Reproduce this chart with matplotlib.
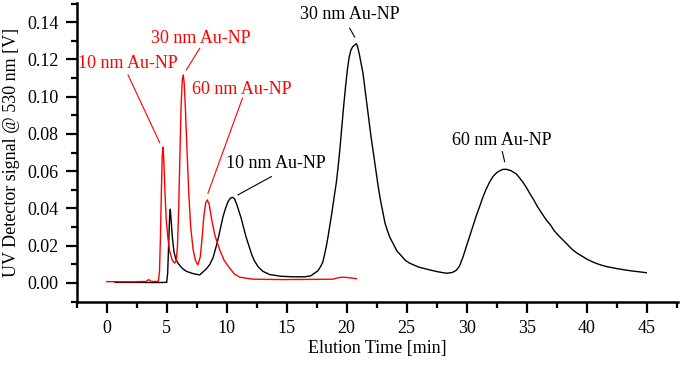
import numpy as np
import matplotlib
matplotlib.use("Agg")
from matplotlib import pyplot as plt
from matplotlib.ticker import MultipleLocator, FormatStrFormatter

plt.rcParams["font.family"] = ["Liberation Serif", "DejaVu Serif"]
plt.rcParams["font.size"] = 13

# black trace (elution time [min], signal [V])
black_t = [0.7, 2, 4, 5.0, 5.08, 5.16, 5.24, 5.3, 5.38, 5.48, 5.6, 5.75, 5.95, 6.3, 6.65,
           7.2, 7.75, 8.3, 8.6, 8.86, 9.1, 9.3, 9.5, 9.69, 9.9, 10.1, 10.3, 10.47, 10.65,
           10.85, 11.05, 11.22, 11.4, 11.6, 11.8, 11.92, 12.1, 12.3, 12.61, 13.0, 13.58,
           14.5, 15.5, 16.5, 17.0, 17.6, 17.8, 18.0, 18.15, 18.3, 18.45, 18.6, 18.75,
           18.86, 19.0, 19.14, 19.3, 19.45, 19.6, 19.75, 19.9, 20.05, 20.2, 20.35, 20.5,
           20.67, 20.8, 20.9, 21.05, 21.2, 21.36, 21.55, 21.8, 22.0, 22.19, 22.4, 22.6,
           22.8, 23.03, 23.2, 23.4, 23.6, 23.86, 24.2, 24.5, 24.9, 25.25, 26.0, 26.92,
           27.6, 28.31, 28.8, 29.14, 29.4, 29.7, 29.97, 30.25, 30.5, 30.8, 31.08, 31.35,
           31.6, 31.9, 32.19, 32.5, 32.8, 33.05, 33.31, 33.7, 34.14, 34.4, 34.7, 35.0,
           35.25, 35.6, 35.9, 36.25, 36.64, 37.0, 37.3, 37.65, 38.03, 38.4, 38.8, 39.2,
           39.69, 40.1, 40.6, 41.1, 41.64, 42.6, 43.58, 44.97]
black_v = [0.0003, 0.0003, 0.0002, 0.0003, 0.005, 0.02, 0.035, 0.0396, 0.033, 0.024,
           0.017, 0.013, 0.0105, 0.0078, 0.0062, 0.005, 0.0043, 0.0075, 0.01, 0.0135,
           0.019, 0.024, 0.03, 0.0355, 0.04, 0.0435, 0.0455, 0.046, 0.0452, 0.042, 0.038,
           0.0345, 0.03, 0.025, 0.021, 0.0185, 0.015, 0.012, 0.0088, 0.0063, 0.0045,
           0.0036, 0.0033, 0.0033, 0.0038, 0.0065, 0.0085, 0.011, 0.015, 0.0195, 0.025,
           0.031, 0.037, 0.042, 0.048, 0.054, 0.063, 0.073, 0.084, 0.095, 0.105, 0.114,
           0.121, 0.125, 0.1268, 0.1278, 0.1285, 0.1272, 0.123, 0.118, 0.1126, 0.103,
           0.09, 0.08, 0.0714, 0.062, 0.053, 0.045, 0.0374, 0.032, 0.028, 0.0245, 0.0213,
           0.017, 0.015, 0.012, 0.0106, 0.0085, 0.007, 0.006, 0.0052, 0.0056, 0.0068,
           0.009, 0.014, 0.0195, 0.025, 0.03, 0.036, 0.041, 0.046, 0.05, 0.054, 0.0571,
           0.0592, 0.0604, 0.061, 0.061, 0.0603, 0.0585, 0.0565, 0.054, 0.051, 0.0482,
           0.0445, 0.041, 0.0375, 0.0338, 0.031, 0.028, 0.0255, 0.023, 0.0205, 0.018,
           0.016, 0.0141, 0.0125, 0.011, 0.0098, 0.0088, 0.0076, 0.0066, 0.0055]

# red trace
red_t = [0, 2, 3.3, 3.5, 3.7, 4.3, 4.4, 4.48, 4.56, 4.63, 4.69, 4.76, 4.85, 4.95, 5.1,
         5.25, 5.45, 5.65, 5.8, 5.9, 6.0, 6.1, 6.2, 6.3, 6.38, 6.46, 6.55, 6.7, 6.85,
         7.0, 7.2, 7.4, 7.6, 7.8, 7.95, 8.1, 8.25, 8.39, 8.55, 8.75, 9.0, 9.42, 9.8,
         10.25, 10.65, 11.08, 12.19, 14.69, 17.0, 18.86, 19.3, 19.7, 20.2, 20.8]
red_v = [0.0007, 0.0006, 0.0008, 0.0018, 0.0008, 0.0008, 0.006, 0.025, 0.05, 0.068,
         0.073, 0.066, 0.05, 0.035, 0.024, 0.017, 0.0125, 0.0106, 0.012, 0.02, 0.04,
         0.068, 0.095, 0.109, 0.1117, 0.107, 0.095, 0.07, 0.047, 0.03, 0.018, 0.012,
         0.0097, 0.014, 0.024, 0.036, 0.043, 0.0446, 0.042, 0.034, 0.026, 0.0177, 0.012,
         0.0079, 0.0048, 0.0031, 0.002, 0.0018, 0.0019, 0.002, 0.0028, 0.0031, 0.0028,
         0.0023]

# labels: text, text pos, leader start, leader tip, colour
lbl_text = ["30 nm Au-NP", "60 nm Au-NP", "10 nm Au-NP",
            "10 nm Au-NP", "30 nm Au-NP", "60 nm Au-NP"]
lbl_xy = [(20.25, 0.1439), (32.96, 0.0763), (14.14, 0.0639),
          (1.78, 0.118), (7.82, 0.1314), (11.29, 0.1037)]
lbl_start = [(20.25, 0.1368), (32.97, 0.0705), (13.72, 0.0571),
             (1.78, 0.1117), (7.75, 0.126), (11.31, 0.0992)]
lbl_tip = [(20.67, 0.132), (33.17, 0.0651), (10.94, 0.0473),
           (4.42, 0.0753), (6.64, 0.1144), (8.44, 0.0482)]
lbl_col = ["black", "black", "black", "red", "red", "red"]

fig = plt.figure(figsize=(6.8, 3.65), dpi=100)
ax = fig.add_axes([0.1128, 0.1718, 0.884, 0.8208])

ax.plot(black_t, black_v, color="black", lw=1.0)
ax.plot(red_t, red_v, color="red", lw=1.0)

for txt, xy, st, tip, c in zip(lbl_text, lbl_xy, lbl_start, lbl_tip, lbl_col):
    ax.text(xy[0], xy[1], txt, color=c, ha="center", va="center")
    ax.plot([st[0], tip[0]], [st[1], tip[1]], color=c, lw=0.8)

ax.set_xlim(-2.5, 47.6)
ax.set_ylim(-0.0104, 0.1505)
ax.xaxis.set_major_locator(MultipleLocator(5))
ax.xaxis.set_minor_locator(MultipleLocator(2.5))
ax.yaxis.set_major_locator(MultipleLocator(0.02))
ax.yaxis.set_minor_locator(MultipleLocator(0.01))
ax.yaxis.set_major_formatter(FormatStrFormatter("%.2f"))
for s in ["top", "right"]:
    ax.spines[s].set_visible(False)
for s in ["left", "bottom"]:
    ax.spines[s].set_linewidth(1.8)
ax.tick_params(which="major", length=8, width=1.6, direction="out", pad=5)
ax.tick_params(which="minor", length=4.5, width=1.6, direction="out")
ax.set_xlabel("Elution Time [min]", labelpad=2)
ax.set_ylabel("UV Detector signal @ 530 nm [V]", labelpad=5)

fig.savefig("out.png", dpi=100)
